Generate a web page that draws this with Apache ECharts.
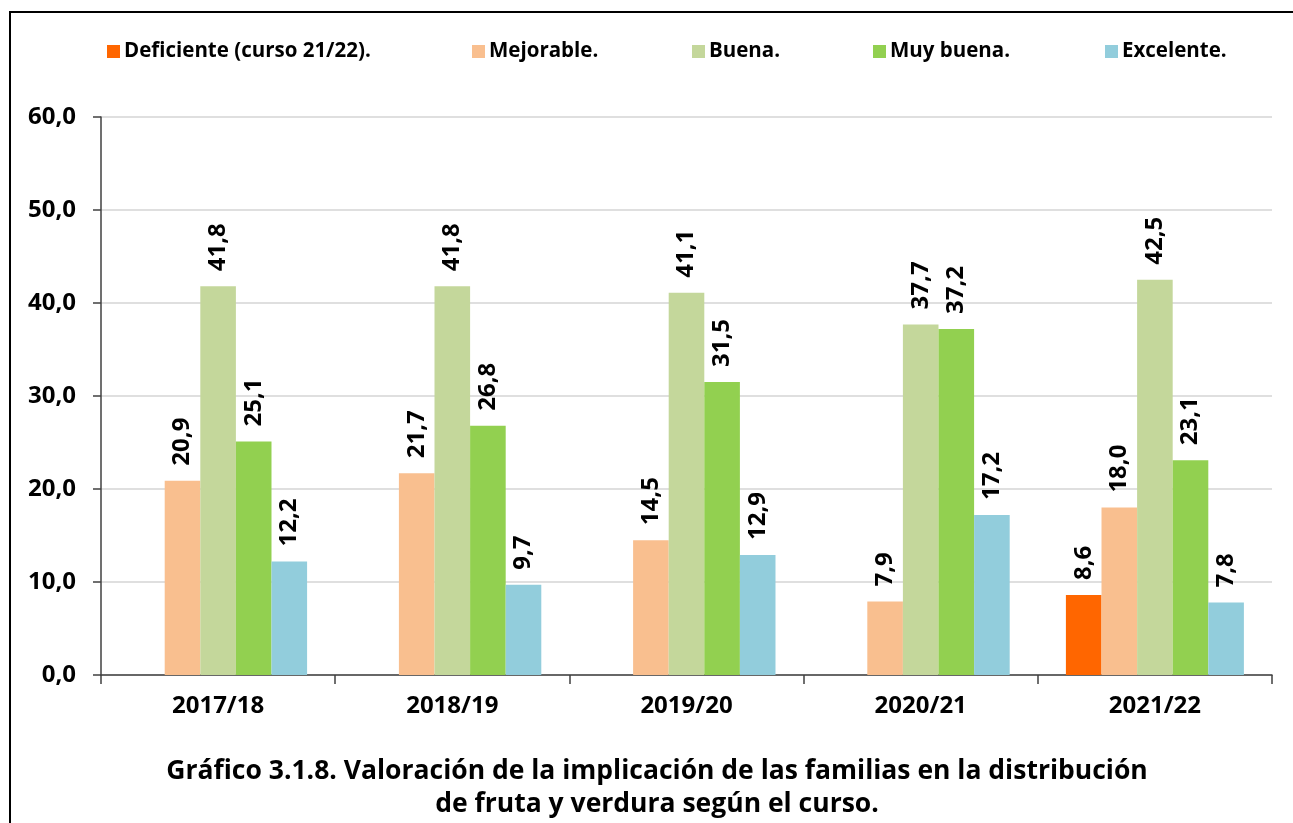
<!DOCTYPE html>
<html>
<head>
<meta charset="utf-8">
<script src="https://cdn.jsdelivr.net/npm/echarts@6/dist/echarts.min.js"></script>
<style>
  html, body { margin: 0; padding: 0; background: #fff; }
  #grafico { width: 1293px; height: 823px; }
</style>
</head>
<body>
<div id="grafico"></div>
<script>
const cursos = ["2017/18", "2018/19", "2019/20", "2020/21", "2021/22"];
const deficiente = [null, null, null, null, 8.6];
const mejorable = [20.9, 21.7, 14.5, 7.9, 18.0];
const buena = [41.8, 41.8, 41.1, 37.7, 42.5];
const muyBuena = [25.1, 26.8, 31.5, 37.2, 23.1];
const excelente = [12.2, 9.7, 12.9, 17.2, 7.8];

const nombres = ["Deficiente (curso 21/22).", "Mejorable.", "Buena.", "Muy buena.", "Excelente."];
const colores = ["#FF6600", "#F9BF8F", "#C4D79B", "#92D050", "#92CDDC"];
const valores = [deficiente, mejorable, buena, muyBuena, excelente];
const posLeyenda = [102, 467, 687, 868, 1100];

const fuente = "Open Sans";

function coma(v) {
  return Number(v).toFixed(1).replace(".", ",");
}

const series = nombres.map(function (nombre, i) {
  return {
    name: nombre,
    type: "bar",
    data: valores[i],
    barGap: "0%",
    barCategoryGap: "24%",
    itemStyle: { color: colores[i] },
    label: {
      show: true,
      position: "top",
      distance: 15,
      rotate: 90,
      align: "left",
      verticalAlign: "middle",
      fontFamily: fuente,
      fontWeight: "bold",
      fontSize: 24,
      color: "#000",
      formatter: function (p) {
        return coma(p.value);
      },
    },
  };
});

// una leyenda por serie para colocar cada una como en el original
const leyendas = nombres.map(function (nombre, i) {
  return {
    data: [nombre],
    left: posLeyenda[i],
    top: 36,
    icon: "rect",
    itemWidth: 13,
    itemHeight: 13,
    itemGap: 0,
    textStyle: {
      fontFamily: fuente,
      fontWeight: "bold",
      fontSize: 20.5,
      color: "#000",
      padding: [0, 0, 0, -1],
    },
  };
});

const option = {
  animation: false,
  backgroundColor: "#fff",
  legend: leyendas,
  grid: { left: 101, right: 21, top: 117, bottom: 148 },
  xAxis: {
    type: "category",
    data: cursos,
    axisLine: { lineStyle: { color: "#404040", width: 1.5 } },
    axisTick: { show: true, length: 9, lineStyle: { color: "#404040", width: 1.5 } },
    axisLabel: {
      margin: 19,
      fontFamily: fuente,
      fontWeight: "bold",
      fontSize: 24,
      color: "#000",
    },
  },
  yAxis: {
    type: "value",
    min: 0,
    max: 60,
    interval: 10,
    axisLine: { show: true, lineStyle: { color: "#404040", width: 1.5 } },
    axisTick: { show: true, length: 8, lineStyle: { color: "#404040", width: 1.5 } },
    splitLine: { lineStyle: { color: "#D4D4D4", width: 1.5 } },
    axisLabel: {
      margin: 25,
      fontFamily: fuente,
      fontWeight: "bold",
      fontSize: 24,
      color: "#000",
      formatter: coma,
    },
  },
  series: series,
  graphic: [
    {
      type: "rect",
      shape: { x: 10, y: 12, width: 1400, height: 1000 },
      style: { fill: "none", stroke: "#000", lineWidth: 2 },
      silent: true,
    },
    {
      type: "text",
      x: 657,
      y: 755,
      style: {
        text: "Gráfico 3.1.8. Valoración de la implicación de las familias en la distribución\nde fruta y verdura según el curso.",
        align: "center",
        verticalAlign: "top",
        fontFamily: fuente,
        fontWeight: "bold",
        fontSize: 26.5,
        lineHeight: 33,
        fill: "#000",
      },
    },
  ],
};

const chart = echarts.init(document.getElementById("grafico"));
chart.setOption(option);
</script>
</body>
</html>
